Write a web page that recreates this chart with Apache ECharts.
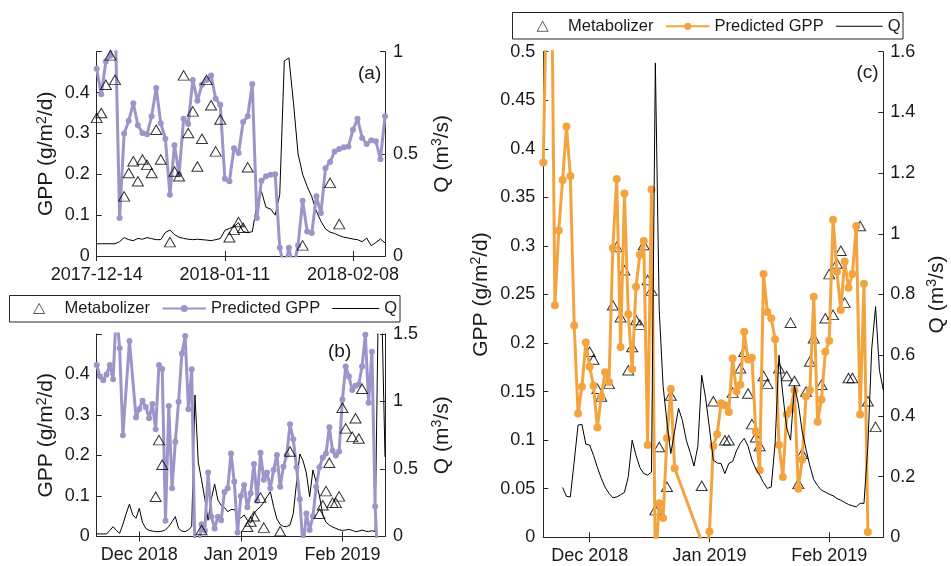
<!DOCTYPE html>
<html><head><meta charset="utf-8">
<script src="https://cdn.jsdelivr.net/npm/echarts@6/dist/echarts.min.js"></script>
<style>html,body{margin:0;padding:0;background:#fff}#c{width:951px;height:566px}</style>
</head><body><div id="c"></div>
<script>
// ---------- DATA ----------
const aStart = '2017-12-14', aDays = 64;
const bStart = '2018-11-18', bDays = 89;
const cStart = '2018-11-19', cDays = 89;

const aTickDates = ['2017-12-14', '2018-01-11', '2018-02-08'];
const aTickLabels = ['2017-12-14', '2018-01-11', '2018-02-08'];
const bcTickDates = ['2018-12-01', '2019-01-01', '2019-02-01'];
const bcTickLabels = ['Dec 2018', 'Jan 2019', 'Feb 2019'];

// Panel (a)
const aGPP = [0.458,0.396,0.476,0.49,0.6,0.093,0.30,0.331,0.374,0.32,
  0.301,0.298,0.342,0.411,0.325,0.287,0.15,0.271,0.2,0.336,
  0.323,0.431,0.38,0.419,0.431,0.442,0.385,0.37,0.189,0.183,
  0.264,0.252,0.328,0.342,0.421,0.093,0.184,0.195,0.199,0.2,
  0.02,-0.03,0.02,-0.03,0.026,0.135,0.06,0.056,0.146,0.105,
  0.215,0.23,0.256,0.262,0.266,0.268,0.309,0.336,0.289,0.274,
  0.283,0.281,0.237,0.342];
const aMetab = [0.338,0.35,0.419,0.491,0.431,null,0.146,0.203,0.232,0.183,
  0.236,0.223,0.203,0.309,0.236,null,0.034,0.207,0.195,0.442,
  0.301,0.354,0.219,0.287,0.431,0.369,0.256,0.334,null,0.046,
  0.064,0.083,0.069,0.217,null,null,null,null,null,null,
  null,null,null,null,null,0.026,null,null,null,null,
  null,0.179,null,0.078,null,null,null,null,null,null,
  null,null,null,null];
const aQ = [0.06,0.06,0.06,0.06,0.06,0.07,0.09,0.08,0.075,0.086,
  0.082,0.09,0.085,0.08,0.08,0.115,0.127,0.105,0.092,0.086,
  0.082,0.08,0.082,0.08,0.078,0.075,0.08,0.085,0.125,0.135,
  0.143,0.163,0.12,0.114,0.119,0.25,0.316,0.238,0.23,0.2,
  0.3,0.955,0.97,0.75,0.5,0.40,0.34,0.29,0.22,0.17,
  0.132,0.117,0.11,0.1,0.092,0.088,0.083,0.08,0.07,0.088,
  0.05,0.066,0.083,0.064];

// Panel (b)
const bGPP = [0.4235,0.395,0.386,0.40,0.4235,0.388,0.56,0.465,0.25,null,
  0.483,null,0.294,0.315,0.335,0.32,0.292,0.327,0.265,0.4235,
  0.4136,0.039,0.322,0.119,0.234,0.333,0.452,0.495,0.314,0.413,
  -0.05,-0.03,0.03,0.015,0.158,0.049,0.02,0.049,0.04,0.11,
  0.119,0.205,0.135,0.01,0.1,0.127,0.072,0.107,0.179,0.088,
  0.207,0.14,0.158,0.119,0.164,0.201,0.123,0.172,0.201,0.277,
  0.24,0.171,0.092,-0.03,0.057,0.016,0.05,0.123,0.171,0.195,
  0.205,0.27,0.212,0.2,0.21,0.338,0.42,0.395,0.362,0.372,
  0.376,0.42,0.498,0.33,0.456,0.074,-0.1,null,null];
const bMetab = [null,null,null,null,null,null,null,null,null,null,
  null,null,null,null,null,null,null,null,0.098,0.238,
  0.177,null,null,null,null,null,null,null,null,null,
  null,null,0.016,null,null,null,null,null,null,null,
  null,null,null,null,null,null,0.024,0.037,0.05,null,
  0.096,0.022,null,null,null,null,0.013,null,null,0.21,
  null,null,null,null,null,null,null,null,0.056,0.077,
  0.112,0.182,0.083,0.083,0.099,0.318,0.267,null,0.246,0.292,
  0.242,0.365,null,null,null,null,null,null,null];
const bQ = [0.019,0.019,0.019,0.019,0.045,0.073,0.045,0.024,0.09,0.17,
  0.24,0.16,0.135,0.209,0.102,0.06,0.045,0.04,0.036,0.036,
  0.04,0.05,0.073,0.11,0.147,0.06,0.04,0.036,0.05,0.073,
  1.048,0.55,0.42,0.28,0.12,0.28,0.389,0.27,0.23,0.215,
  0.184,0.2,0.2,0.159,0.135,0.16,0.12,0.1,0.17,0.2,
  0.221,0.255,0.295,0.332,0.221,0.13,0.09,0.075,0.073,0.085,
  0.17,0.4,0.611,0.56,0.47,0.295,0.493,0.4,0.3,0.159,
  0.105,0.085,0.07,0.06,0.05,0.045,0.048,0.053,0.045,0.036,
  0.04,0.048,0.04,0.036,0.043,0.036,1.8,1.7,0.59];

// Panel (c)
const cGPP = [0.386,0.6,0.65,0.239,0.316,0.368,0.423,0.372,0.218,0.1275,
  0.155,0.2007,0.1756,0.156,0.113,0.145,0.170,0.160,0.298,0.369,
  0.196,0.354,0.2296,0.173,0.258,0.291,0.305,0.095,0.358,-0.03,
  0.035,0.02,0.102,0.1526,0.071,null,null,null,null,null,
  null,null,-0.015,0.006,0.094,0.106,0.138,0.136,0.129,0.184,
  0.15,0.157,0.2117,0.183,0.185,0.1086,0.069,0.271,0.232,0.2255,
  0.204,0.095,0.062,0.1265,0.1316,0.1515,0.050,0.080,0.145,0.1515,
  0.2477,0.119,0.142,0.191,0.2024,0.327,0.2735,0.234,0.284,0.257,
  0.271,0.3206,0.1265,0.261,0.0055,null,null,null,null];
const cMetab = [null,null,null,null,null,null,null,null,null,null,
  null,null,0.191,0.183,0.153,0.145,null,0.158,0.239,0.299,
  0.2265,0.275,0.172,0.196,0.2237,0.219,0.301,0.265,0.254,0.028,
  0.093,null,0.052,0.146,null,null,null,null,null,null,
  null,0.053,null,null,0.14,null,null,0.1,0.1,0.149,
  null,0.174,0.191,0.148,0.1165,0.103,0.094,0.166,0.158,null,
  null,0.174,null,0.166,0.221,0.161,0.055,0.086,0.15,0.181,
  0.205,null,0.157,0.2255,0.271,0.229,0.282,0.295,0.2416,0.164,
  0.164,null,0.3206,null,0.14,null,0.1137,null,null];
const cQ = [null,null,null,null,null,0.164,0.135,0.133,0.25,0.37,
  0.372,0.307,0.304,0.27,0.23,0.195,0.165,0.145,0.13,0.133,
  0.14,0.148,0.2,0.32,0.27,0.23,0.21,0.205,0.215,1.563,
  0.75,0.5,0.38,0.276,0.35,0.425,0.385,0.32,0.28,0.235,
  0.3,0.534,0.46,0.36,0.254,0.245,0.243,0.21,0.243,0.25,
  0.285,0.31,0.326,0.3,0.255,0.225,0.205,0.18,0.161,0.166,
  0.31,0.6,0.47,0.36,0.32,0.5,0.44,0.35,0.29,0.235,
  0.19,0.17,0.155,0.149,0.142,0.137,0.128,0.122,0.115,0.108,
  0.104,0.1,0.112,0.112,0.3,0.62,0.76,0.55,0.485];

// ---------- STYLE ----------
const FF = 'Liberation Sans, Arial, Helvetica, sans-serif';
const AX = '#262626';
const TXT = '#1a1a1a';
const PURPLE = '#9d95c9';
const ORANGE = '#f4a43f';

function dayRange(start, n) {
  const t0 = Date.UTC(+start.slice(0,4), +start.slice(5,7)-1, +start.slice(8,10));
  const out = [];
  for (let i = 0; i < n; i++) out.push(new Date(t0 + i*86400000).toISOString().slice(0,10));
  return out;
}
const aCats = dayRange(aStart, aDays);
const bCats = dayRange(bStart, bDays);
const cCats = dayRange(cStart, cDays);

function xPair(gi, cats, tDates, tLabels) {
  const pick = (i, v) => tDates.indexOf(v) >= 0;
  const base = {
    type: 'category', gridIndex: gi, data: cats, boundaryGap: false,
    axisLine: { show: true, lineStyle: { color: AX, width: 1 } },
    axisTick: { show: true, inside: true, length: 5, interval: pick, lineStyle: { color: AX } },
    splitLine: { show: false }
  };
  return [
    Object.assign({}, base, { position: 'bottom',
      axisLabel: { show: true, interval: pick, formatter: v => tLabels[tDates.indexOf(v)] || '',
        color: TXT, fontSize: 18, fontFamily: FF, margin: 10 } }),
    Object.assign({}, base, { position: 'top', axisLabel: { show: false } })
  ];
}
function yAx(gi, pos, max, interval, fmt, name, gap, margin) {
  return {
    type: 'value', gridIndex: gi, position: pos, min: 0, max: max, interval: interval,
    axisLine: { show: true, lineStyle: { color: AX, width: 1 } },
    axisTick: { show: true, inside: true, length: 5, lineStyle: { color: AX } },
    axisLabel: { color: TXT, fontSize: 18, fontFamily: FF, margin: margin, formatter: fmt },
    splitLine: { show: false },
    name: name, nameLocation: 'middle', nameRotate: 90, nameGap: gap,
    nameTextStyle: { color: TXT, fontSize: 21, fontFamily: FF, lineHeight: 24,
      rich: { s: { fontSize: 14, fontFamily: FF, color: TXT, verticalAlign: 'top', lineHeight: 24 } } }
  };
}
const fmtNum = v => String(+v.toFixed(3));
const fmtHalfHidden = v => (v >= 0.5 ? '' : String(+v.toFixed(3)));
const GPPNAME = 'GPP (g/m{s|2}/d)';
const QNAME = 'Q (m{s|3}/s)';

// one legend entry per component so each icon gets its own slot width
function legendItem(left, top, item, w, h, textPad, itemStyle) {
  const lg = {
    left: left, top: top, orient: 'horizontal', data: [item],
    itemWidth: w, itemHeight: h, padding: 0, selectedMode: false,
    formatter: n => n.trim(),
    textStyle: { fontSize: 16.5, color: TXT, fontFamily: FF, padding: [0, 0, 0, textPad] }
  };
  if (itemStyle) lg.itemStyle = itemStyle;
  return lg;
}
function legendSet(x0, top, suffix) {
  // x0 = left edge of the legend box
  return [
    legendItem(x0 + 24.2, top, 'Metabolizer' + suffix, 11, 10, 15, { borderWidth: 0.8 }),
    legendItem(x0 + 152.5, top, 'Predicted GPP' + suffix, 43.5, 9, 0),
    legendItem(x0 + 323.3, top, { name: 'Q' + suffix, icon: 'rect' }, 47, 1, 0)
  ];
}

const triStyle = { color: 'rgba(255,255,255,0)', borderColor: '#000', borderWidth: 1 };

const option = {
  animation: false,
  backgroundColor: '#fff',
  grid: [
    { left: 96.7, top: 51.7, width: 288.3, height: 204.3 },
    { left: 96.7, top: 334, width: 288.3, height: 202.5 },
    { left: 543.3, top: 51.7, width: 340, height: 485.6 }
  ],
  xAxis: [].concat(
    xPair(0, aCats, aTickDates, aTickLabels),
    xPair(1, bCats, bcTickDates, bcTickLabels),
    xPair(2, cCats, bcTickDates, bcTickLabels)
  ),
  yAxis: [
    yAx(0, 'left', 0.5, 0.1, fmtHalfHidden, GPPNAME, 38, 7),
    yAx(0, 'right', 1, 0.5, fmtNum, QNAME, 45, 8),
    yAx(1, 'left', 0.5, 0.1, fmtHalfHidden, GPPNAME, 38, 7),
    yAx(1, 'right', 1.5, 0.5, fmtNum, QNAME, 45, 8),
    yAx(2, 'left', 0.5, 0.05, fmtNum, GPPNAME, 50, 8),
    yAx(2, 'right', 1.6, 0.2, fmtNum, QNAME, 42, 7)
  ],
  legend: [].concat(legendSet(9, 300, ''), legendSet(512.5, 17.8, ' ')),
  graphic: [
    { type: 'rect', z: -1, shape: { x: 9.5, y: 295.5, width: 390.5, height: 26.5 },
      style: { fill: '#fff', stroke: AX, lineWidth: 1 } },
    { type: 'rect', z: -1, shape: { x: 512.5, y: 12.5, width: 390.5, height: 26.5 },
      style: { fill: '#fff', stroke: AX, lineWidth: 1 } },
    { type: 'text', left: 358, top: 64, style: { text: '(a)', font: '19px ' + FF, fill: TXT } },
    { type: 'text', left: 328, top: 342, style: { text: '(b)', font: '19px ' + FF, fill: TXT } },
    { type: 'text', left: 856.5, top: 63, style: { text: '(c)', font: '19px ' + FF, fill: TXT } }
  ],
  series: [
    // (a)
    { name: 'Q', type: 'line', xAxisIndex: 0, yAxisIndex: 1, data: aQ, symbol: 'none',
      lineStyle: { color: '#000', width: 1 }, itemStyle: { color: '#000' }, z: 1 },
    { name: 'Predicted GPP', type: 'line', xAxisIndex: 0, yAxisIndex: 0, data: aGPP,
      symbol: 'circle', symbolSize: 6, showAllSymbol: true, connectNulls: true,
      lineStyle: { color: PURPLE, width: 3 }, itemStyle: { color: PURPLE }, z: 2 },
    { name: 'Metabolizer', type: 'scatter', xAxisIndex: 0, yAxisIndex: 0, data: aMetab,
      symbol: 'triangle', symbolSize: [11, 9.5], itemStyle: triStyle, z: 3 },
    // (b)
    { name: 'Q', type: 'line', xAxisIndex: 2, yAxisIndex: 3, data: bQ, symbol: 'none',
      lineStyle: { color: '#000', width: 1 }, itemStyle: { color: '#000' }, z: 1 },
    { name: 'Predicted GPP', type: 'line', xAxisIndex: 2, yAxisIndex: 2, data: bGPP,
      symbol: 'circle', symbolSize: 6, showAllSymbol: true, connectNulls: true,
      lineStyle: { color: PURPLE, width: 3 }, itemStyle: { color: PURPLE }, z: 2 },
    { name: 'Metabolizer', type: 'scatter', xAxisIndex: 2, yAxisIndex: 2, data: bMetab,
      symbol: 'triangle', symbolSize: [11, 9.5], itemStyle: triStyle, z: 3 },
    // (c)
    { name: 'Metabolizer ', type: 'scatter', xAxisIndex: 4, yAxisIndex: 4, data: cMetab,
      symbol: 'triangle', symbolSize: [11, 9.5], itemStyle: triStyle, z: 1 },
    { name: 'Predicted GPP ', type: 'line', xAxisIndex: 4, yAxisIndex: 4, data: cGPP,
      symbol: 'circle', symbolSize: 8, showAllSymbol: true, connectNulls: true,
      lineStyle: { color: ORANGE, width: 3 }, itemStyle: { color: ORANGE }, z: 2 },
    { name: 'Q ', type: 'line', xAxisIndex: 4, yAxisIndex: 5, data: cQ, symbol: 'none',
      lineStyle: { color: '#000', width: 1 }, itemStyle: { color: '#000' }, z: 3 }
  ]
};

const chart = echarts.init(document.getElementById('c'), null, { renderer: 'canvas' });
chart.setOption(option);
</script>
</body></html>
